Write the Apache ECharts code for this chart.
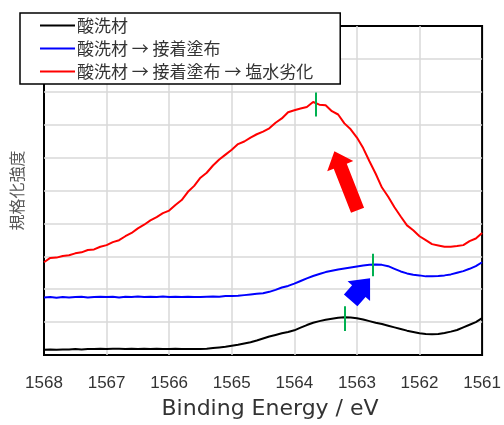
<!DOCTYPE html>
<html>
<head>
<meta charset="utf-8">
<script src="https://cdn.jsdelivr.net/npm/echarts@6/dist/echarts.min.js"></script>
<style>
  html, body { margin: 0; padding: 0; background: #fff; }
  #chart { width: 504px; height: 425px; }
</style>
</head>
<body>
<div id="chart"></div>
<script>
// Binding energy grid (eV), descending
const energy = [
  1568.0, 1567.9, 1567.8, 1567.7, 1567.6, 1567.5, 1567.4, 1567.3, 1567.2, 1567.1,
  1567.0, 1566.9, 1566.8, 1566.7, 1566.6, 1566.5, 1566.4, 1566.3, 1566.2, 1566.1,
  1566.0, 1565.9, 1565.8, 1565.7, 1565.6, 1565.5, 1565.4, 1565.3, 1565.2, 1565.1,
  1565.0, 1564.9, 1564.8, 1564.7, 1564.6, 1564.5, 1564.4, 1564.3, 1564.2, 1564.1,
  1564.0, 1563.9, 1563.8, 1563.7, 1563.6, 1563.5, 1563.4, 1563.3, 1563.2, 1563.1,
  1563.0, 1562.9, 1562.8, 1562.7, 1562.6, 1562.5, 1562.4, 1562.3, 1562.2, 1562.1,
  1562.0, 1561.9, 1561.8, 1561.7, 1561.6, 1561.5, 1561.4, 1561.3, 1561.2, 1561.1,
  1561.0
];

// Normalized intensity (offset stacked) for each sample
const pickled = [
  0.16, 0.17, 0.16, 0.17, 0.17, 0.18, 0.17, 0.18, 0.18, 0.19,
  0.18, 0.19, 0.19, 0.18, 0.19, 0.18, 0.19, 0.18, 0.19, 0.18,
  0.18, 0.19, 0.18, 0.18, 0.18, 0.18, 0.19, 0.21, 0.23, 0.25,
  0.28, 0.31, 0.35, 0.39, 0.44, 0.50, 0.56, 0.61, 0.66, 0.70,
  0.75, 0.83, 0.91, 0.98, 1.03, 1.07, 1.10, 1.13, 1.15, 1.14,
  1.12, 1.08, 1.03, 0.98, 0.94, 0.89, 0.84, 0.79, 0.74, 0.70,
  0.66, 0.64, 0.63, 0.64, 0.67, 0.71, 0.76, 0.84, 0.92, 1.00,
  1.12
];
const coated = [
  1.75, 1.76, 1.74, 1.76, 1.75, 1.76, 1.77, 1.75, 1.76, 1.77,
  1.76, 1.77, 1.75, 1.77, 1.76, 1.78, 1.76, 1.77, 1.76, 1.78,
  1.76, 1.77, 1.76, 1.77, 1.76, 1.76, 1.77, 1.78, 1.77, 1.79,
  1.79, 1.80, 1.82, 1.84, 1.86, 1.88, 1.92, 1.98, 2.05, 2.10,
  2.17, 2.25, 2.33, 2.40, 2.46, 2.52, 2.56, 2.60, 2.63, 2.66,
  2.69, 2.72, 2.74, 2.75, 2.74, 2.70, 2.62, 2.54, 2.48, 2.44,
  2.42, 2.39, 2.39, 2.40, 2.42, 2.45, 2.50, 2.55, 2.62, 2.70,
  2.82
];
const saltAged = [
  2.82, 2.95, 2.96, 3.01, 3.03, 3.09, 3.12, 3.19, 3.21, 3.29,
  3.34, 3.43, 3.49, 3.61, 3.71, 3.85, 3.96, 4.09, 4.19, 4.31,
  4.39, 4.56, 4.71, 4.96, 5.14, 5.39, 5.54, 5.76, 5.94, 6.09,
  6.24, 6.41, 6.49, 6.61, 6.71, 6.79, 6.89, 7.06, 7.19, 7.38,
  7.44, 7.49, 7.54, 7.69, 7.61, 7.59, 7.41, 7.31, 7.04, 6.86,
  6.61, 6.29, 5.89, 5.51, 5.09, 4.81, 4.49, 4.21, 3.94, 3.79,
  3.61, 3.49, 3.37, 3.33, 3.29, 3.29, 3.31, 3.34, 3.46, 3.54,
  3.71
];

const seriesNames = ['酸洗材', '酸洗材 → 接着塗布', '酸洗材 → 接着塗布 → 塩水劣化'];

// Peak position markers: [energy, yLow, yHigh]
const peakPickled = [1563.2, 0.73, 1.48];
const peakCoated = [1562.75, 2.39, 3.08];
const peakAged = [1563.65, 7.25, 7.98];

// Shift arrows: [tailEnergy, tailY, tipEnergy, tipY]
const arrowAged = [1562.99, 4.40, 1563.36, 6.19];
const arrowCoated = [1563.10, 1.66, 1562.79, 2.33];

const xTicks = [1561, 1562, 1563, 1564, 1565, 1566, 1567, 1568];

function pairs(ys) { return energy.map((e, i) => [e, ys[i]]); }

function peakLine(p) {
  return {
    silent: true,
    symbol: ['none', 'none'],
    label: { show: false },
    lineStyle: { color: '#00b050', width: 2, type: 'solid' },
    animation: false,
    data: [[{ coord: [p[0], p[1]] }, { coord: [p[0], p[2]] }]]
  };
}

function arrowSeries(a, color, shaftW, headW, headL) {
  return {
    type: 'custom',
    silent: true,
    z: 5,
    data: [a],
    renderItem: function (params, api) {
      const t = api.coord([api.value(0), api.value(1)]);
      const h = api.coord([api.value(2), api.value(3)]);
      const dx = h[0] - t[0], dy = h[1] - t[1];
      const len = Math.sqrt(dx * dx + dy * dy);
      const ux = dx / len, uy = dy / len;
      const px = -uy, py = ux;
      const nx = h[0] - ux * headL, ny = h[1] - uy * headL;
      const pts = [
        [t[0] + px * shaftW / 2, t[1] + py * shaftW / 2],
        [nx + px * shaftW / 2, ny + py * shaftW / 2],
        [nx + px * headW / 2, ny + py * headW / 2],
        [h[0], h[1]],
        [nx - px * headW / 2, ny - py * headW / 2],
        [nx - px * shaftW / 2, ny - py * shaftW / 2],
        [t[0] - px * shaftW / 2, t[1] - py * shaftW / 2]
      ];
      return { type: 'polygon', shape: { points: pts }, style: { fill: color } };
    }
  };
}

const chart = echarts.init(document.getElementById('chart'), null, { renderer: 'canvas' });

chart.setOption({
  animation: false,
  backgroundColor: '#ffffff',
  grid: {
    left: 44, right: 18, top: 26, bottom: 68,
    show: true, borderColor: '#000000', borderWidth: 2, backgroundColor: 'transparent'
  },
  legend: {
    data: seriesNames,
    orient: 'vertical',
    left: 20, top: 13,
    icon: 'rect',
    itemWidth: 35, itemHeight: 2,
    itemGap: 6,
    padding: [4, 27, 4, 20],
    backgroundColor: '#ffffff',
    borderColor: '#000000',
    borderWidth: 1.5,
    borderRadius: 0,
    textStyle: {
      fontFamily: 'Noto Sans CJK JP',
      fontSize: 17,
      lineHeight: 17,
      color: '#333333',
      padding: [0, 0, 0, -3]
    }
  },
  xAxis: {
    type: 'value',
    min: 1561, max: 1568, interval: 1,
    inverse: true,
    name: 'Binding Energy / eV',
    nameLocation: 'middle',
    nameGap: 43,
    nameTextStyle: { fontFamily: 'DejaVu Sans', fontSize: 22, color: '#333333', padding: [0, 0, 0, 14] },
    axisLine: { show: false },
    axisTick: { show: false },
    axisLabel: {
      margin: 20,
      fontFamily: 'Liberation Sans', fontSize: 17, color: '#333333',
      formatter: function (v) { return xTicks.indexOf(v) >= 0 ? String(v) : ''; }
    },
    splitLine: { show: true, showMinLine: false, showMaxLine: false, lineStyle: { color: '#d9d9d9', width: 1.5 } }
  },
  yAxis: {
    type: 'value',
    min: 0, max: 10, interval: 1,
    name: '規格化強度',
    nameLocation: 'middle',
    nameRotate: 90,
    nameGap: 19,
    nameTextStyle: { fontFamily: 'Noto Sans CJK JP', fontSize: 16, color: '#595959' },
    axisLine: { show: false },
    axisTick: { show: false },
    axisLabel: { show: false },
    splitLine: { show: true, showMinLine: false, showMaxLine: false, lineStyle: { color: '#d9d9d9', width: 1.5 } }
  },
  series: [
    {
      name: seriesNames[0], type: 'line', data: pairs(pickled),
      symbol: 'none', smooth: false, color: '#000000',
      lineStyle: { width: 2, color: '#000000' },
      markLine: peakLine(peakPickled)
    },
    {
      name: seriesNames[1], type: 'line', data: pairs(coated),
      symbol: 'none', smooth: false, color: '#0000ff',
      lineStyle: { width: 2, color: '#0000ff' },
      markLine: peakLine(peakCoated)
    },
    {
      name: seriesNames[2], type: 'line', data: pairs(saltAged),
      symbol: 'none', smooth: false, color: '#ff0000',
      lineStyle: { width: 2, color: '#ff0000' },
      markLine: peakLine(peakAged)
    },
    arrowSeries(arrowAged, '#ff0000', 14, 28, 16),
    arrowSeries(arrowCoated, '#0000ff', 18, 30, 17)
  ]
});
</script>
</body>
</html>
